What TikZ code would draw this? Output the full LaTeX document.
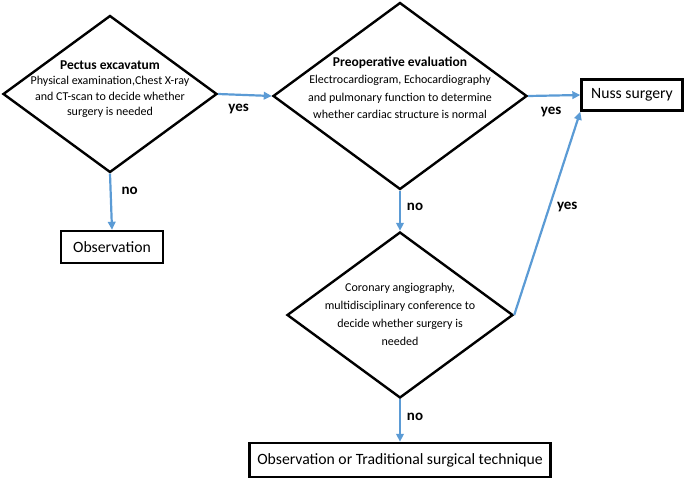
\documentclass[tikz,border=0pt]{standalone}
\usepackage{fontspec}
\setmainfont{Carlito}
\usetikzlibrary{shapes.geometric,arrows.meta}

\definecolor{flowblue}{RGB}{91,155,213}

\tikzset{
    decision/.style={diamond, draw, line width=2.4pt, inner sep=0pt},
    question/.style={align=center, inner sep=0pt},
    outcome/.style={rectangle, draw, line width=2.4pt, inner sep=0pt,
        font=\fontsize{15.7}{18}\selectfont},
    flow/.style={-{Triangle[length=8pt,width=7.5pt]}, line width=2.2pt, flowblue},
    answer/.style={font=\bfseries\fontsize{15}{17}\selectfont, text=black},
}

\newcommand{\qtitle}[1]{{\bfseries\fontsize{13.5}{15}\selectfont #1}}

\begin{document}
\begin{tikzpicture}[x=1pt,y=-1pt]
    \useasboundingbox (0,0) rectangle (685,479);

    % decisions
    \node [decision, minimum width=214pt, minimum height=157pt]
        (pectus) at (110,94) {};
    \node [question, font=\fontsize{12}{15.5}\selectfont]
        (pectustext) at (110,89)
        {\qtitle{Pectus excavatum}\\
         Physical examination,Chest X-ray\\
         and CT-scan to decide whether\\
         surgery is needed};

    \node [decision, minimum width=254pt, minimum height=187pt]
        (preop) at (400,96) {};
    \node [question, font=\fontsize{12}{17.5}\selectfont]
        (preoptext) at (400,88)
        {\qtitle{Preoperative evaluation}\\
         Electrocardiogram, Echocardiography\\
         and pulmonary function to determine\\
         whether cardiac structure is normal};

    \node [decision, minimum width=226pt, minimum height=166pt]
        (coronary) at (400,315) {};
    \node [question, font=\fontsize{12}{18}\selectfont]
        (coronarytext) at (400,314)
        {Coronary angiography,\\
         multidisciplinary conference to\\
         decide whether surgery is\\
         needed};

    % outcomes
    \node [outcome, minimum width=102pt, minimum height=32pt]
        (obs) at (112,247) {Observation};
    \node [outcome, minimum width=101pt, minimum height=31pt]
        (nuss) at (632,95) {Nuss surgery};
    \node [outcome, minimum width=301pt, minimum height=34pt]
        (final) at (400,460) {Observation or Traditional surgical technique};

    % connectors
    \draw [flow] (pectus.east) -- (preop.west)
        node [answer, pos=0.38, yshift=-14pt] {yes};
    \draw [flow] (preop.east) -- (nuss.west)
        node [answer, pos=0.44, yshift=-16pt] {yes};
    \draw [flow] (pectus.south) -- (obs.north)
        node [answer, pos=0.3, xshift=19pt] {no};
    \draw [flow] (preop.south) -- (coronary.north)
        node [answer, pos=0.4, xshift=15pt] {no};
    \draw [flow] (coronary.south) -- (final.north)
        node [answer, pos=0.42, xshift=15pt] {no};
    \draw [flow] (coronary.east) -- (nuss.south west)
        node [answer, pos=0.53, xshift=18pt] {yes};
\end{tikzpicture}
\end{document}
